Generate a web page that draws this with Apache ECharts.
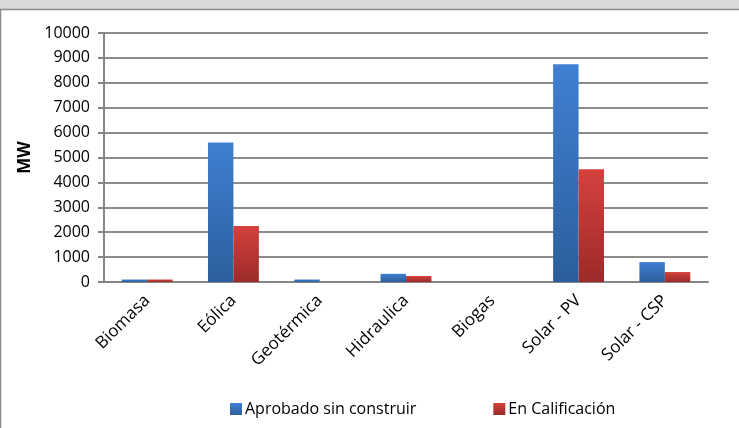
<!DOCTYPE html>
<html>
<head>
<meta charset="utf-8">
<script src="https://cdn.jsdelivr.net/npm/echarts@6/dist/echarts.min.js"></script>
<style>
  html, body { margin: 0; padding: 0; background: #fff; }
  #chart { width: 739px; height: 428px; }
</style>
</head>
<body>
<div id="chart"></div>
<script>
const categories = ['Biomasa', 'Eólica', 'Geotérmica', 'Hidraulica', 'Biogas', 'Solar - PV', 'Solar - CSP'];
const aprobado = [100, 5600, 100, 330, 0, 8750, 800];
const calificacion = [100, 2250, 0, 240, 0, 4530, 400];
const seriesNames = ['Aprobado sin construir', 'En Calificación'];

const font = 'Open Sans';

const grad = (top, bottom) => new echarts.graphic.LinearGradient(0, 0, 0, 1, [
  { offset: 0, color: top },
  { offset: 1, color: bottom }
]);

const chart = echarts.init(document.getElementById('chart'), null, { renderer: 'canvas' });

chart.setOption({
  animation: false,
  backgroundColor: '#fff',
  textStyle: { fontFamily: font },
  graphic: [
    { type: 'rect', shape: { x: 0, y: 0, width: 739, height: 9 }, style: { fill: '#d9d9d9' }, silent: true },
    { type: 'line', shape: { x1: 0, y1: 9.5, x2: 739, y2: 9.5 }, style: { stroke: '#8c8c8c', lineWidth: 1.5 }, silent: true },
    { type: 'line', shape: { x1: 0.5, y1: 9, x2: 0.5, y2: 428 }, style: { stroke: '#8c8c8c', lineWidth: 1.5 }, silent: true }
  ],
  grid: { left: 104, right: 31, top: 33, bottom: 146 },
  legend: {
    bottom: 6,
    left: 225,
    itemWidth: 12,
    itemHeight: 12,
    itemGap: 77,
    icon: 'rect',
    textStyle: { fontSize: 16, color: '#000', fontFamily: font, padding: [0, 0, 0, -2] },
    data: seriesNames
  },
  xAxis: {
    type: 'category',
    data: categories,
    axisLine: { lineStyle: { color: '#868686', width: 2 } },
    axisTick: { show: false },
    axisLabel: { rotate: 45, fontSize: 17, color: '#000', margin: 16, interval: 0 }
  },
  yAxis: {
    type: 'value',
    min: 0,
    max: 10000,
    interval: 1000,
    name: 'MW',
    nameLocation: 'middle',
    nameRotate: 90,
    nameGap: 58,
    nameTextStyle: { fontSize: 17, fontWeight: 'bold', color: '#000' },
    axisLine: { show: true, lineStyle: { color: '#868686', width: 2 } },
    axisTick: { show: true, length: 6, lineStyle: { color: '#868686', width: 2 } },
    axisLabel: { fontSize: 16, color: '#000', margin: 14, formatter: v => String(v) },
    splitLine: { lineStyle: { color: '#8c8c8c', width: 2 } }
  },
  series: [
    {
      name: seriesNames[0],
      type: 'bar',
      data: aprobado,
      barGap: '0%',
      barCategoryGap: '41%',
      itemStyle: { color: grad('#3f80d2', '#2c5e9c') }
    },
    {
      name: seriesNames[1],
      type: 'bar',
      data: calificacion,
      barGap: '0%',
      barCategoryGap: '41%',
      itemStyle: { color: grad('#d5413d', '#9b2b29') }
    }
  ]
});
</script>
</body>
</html>
